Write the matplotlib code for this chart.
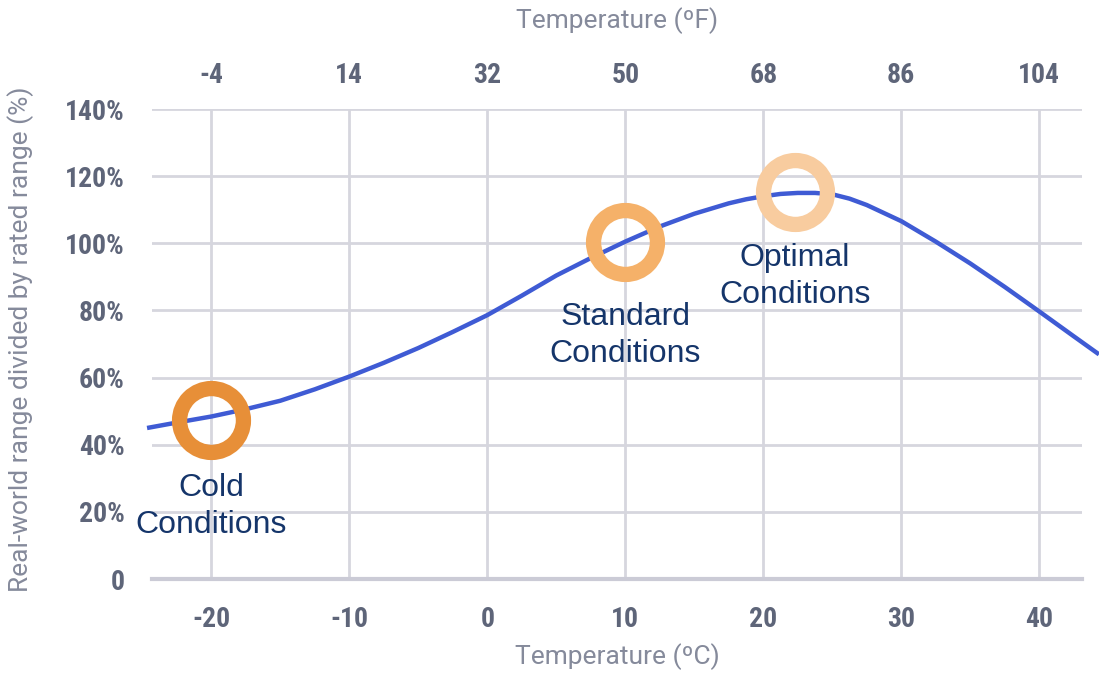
import numpy as np
import matplotlib
matplotlib.use("Agg")
from matplotlib import pyplot as plt
from matplotlib import font_manager

plt.rcParams['axes.unicode_minus'] = False

# range ratio curve (degC, %)
temp_c = [-24.5, -22.5, -20, -17.5, -15, -12.5, -10, -7.5, -5, -2.5, 0, 2.5, 5, 7.5, 10,
          12.5, 15, 17.5, 18.75, 20, 21.25, 22.5, 23.75, 25, 26.25, 27.5, 30, 32.5, 35,
          37.5, 40, 42.5, 44.2]
range_pct = [45.1, 46.6, 48.4, 50.6, 53.1, 56.5, 60.3, 64.4, 68.8, 73.6, 78.6, 84.4, 90.4, 95.6, 100.5,
             105.0, 108.8, 111.9, 113.1, 114.0, 114.7, 115.0, 115.0, 114.6, 113.3, 111.4, 106.6, 100.5, 94.0,
             87.0, 79.7, 72.3, 67.3]

# highlighted conditions
cond_labels = ["Cold\nConditions", "Standard\nConditions", "Optimal\nConditions"]
cond_temp = [-20, 10, 22.3]
cond_pct = [47.5, 100.3, 115.2]
cond_colors = ["#E78F38", "#F5B169", "#F8CC9F"]
label_pct = [21.5, 72.4, 90.0]

f_ticks = [-4, 14, 32, 50, 68, 86, 104]
y_ticks = [0, 20, 40, 60, 80, 100, 120, 140]

names = {f.name for f in font_manager.fontManager.ttflist}
if 'Roboto Condensed' in names:
    tick_font = dict(family='Roboto Condensed', weight='bold')
elif 'Liberation Sans Narrow' in names:
    tick_font = dict(family='Liberation Sans Narrow', weight='bold')
else:
    tick_font = dict(family='DejaVu Sans', weight='bold', stretch='condensed')
tick_color = "#5E6579"
grid_color = "#D6D6DE"
label_color = "#858A9B"

fig = plt.figure(figsize=(10.99, 6.74), dpi=100)
ax = fig.add_axes([152 / 1099, 1 - 579 / 674, (1082 - 152) / 1099, (579 - 109) / 674])

ax.set_xlim(-24.3, 43.1)
ax.set_ylim(0, 140)
ax.set_xticks([-20, -10, 0, 10, 20, 30, 40])
ax.set_yticks(y_ticks)
ax.set_yticklabels(["0"] + [f"{v}%" for v in y_ticks[1:]])
ax.grid(True, color=grid_color, linewidth=2)
ax.set_axisbelow(True)
for s in ["top", "left", "right"]:
    ax.spines[s].set_visible(False)
ax.spines["bottom"].set_color("#CBCBD6")
ax.spines["bottom"].set_linewidth(3)
ax.tick_params(length=0, labelsize=20, labelcolor=tick_color)
ax.tick_params(axis="x", pad=19.5)
ax.tick_params(axis="y", pad=19.5)
for lab in ax.get_xticklabels() + ax.get_yticklabels():
    lab.set(**tick_font)

ax.plot(temp_c, range_pct, color="#3F5BD4", linewidth=3.2, clip_on=False, zorder=3,
        solid_joinstyle="round")

for lab, tc, pc, col, lp in zip(cond_labels, cond_temp, cond_pct, cond_colors, label_pct):
    ax.plot(tc, pc, 'o', markersize=46, markerfacecolor="none", markeredgecolor=col,
            markeredgewidth=11, zorder=4, clip_on=False)
    ax.text(tc, lp, lab, ha="center", va="center", fontsize=23, color="#15356A",
            family="Liberation Sans", linespacing=1.3, zorder=5)

ax.set_xlabel("Temperature (ºC)", fontsize=19, color=label_color, labelpad=7, family="Roboto")
ax.set_ylabel("Real-world range divided by rated range (%)", fontsize=19, color=label_color,
              family="Roboto")
ax.yaxis.set_label_coords(-0.127, 0.51)

top = ax.secondary_xaxis("top", functions=(lambda c: c * 9 / 5 + 32, lambda f: (f - 32) * 5 / 9))
top.set_xticks(f_ticks)
top.tick_params(length=0, labelsize=20, labelcolor=tick_color, pad=14.5)
for lab in top.get_xticklabels():
    lab.set(**tick_font)
top.spines["top"].set_visible(False)
top.set_xlabel("Temperature (ºF)", fontsize=19, color=label_color, labelpad=24, family="Roboto")

fig.savefig("out.png", dpi=100)
